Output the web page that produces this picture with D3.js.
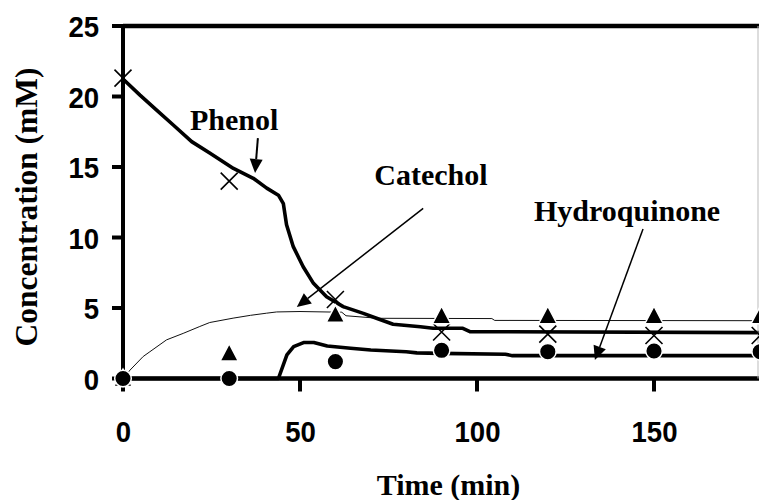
<!DOCTYPE html>
<html>
<head>
<meta charset="utf-8">
<script src="https://cdn.jsdelivr.net/npm/d3@7"></script>
<style>
  html, body { margin: 0; padding: 0; background: #fff; }
  svg { display: block; }
</style>
</head>
<body>
<svg id="chart" width="759" height="500"></svg>
<script>
// Sampling times (min) and measured concentrations (mM)
const sampleTimes = [0, 30, 60, 90, 120, 150, 180];
const phenolObs = [21.3, 14.0, 5.6, 3.3, 3.15, 3.05, 3.05];
const catecholObs = [0, 1.8, 4.55, 4.45, 4.45, 4.45, 4.45];
const hydroquinoneObs = [0, 0, 1.2, 2.0, 1.9, 1.95, 1.9];

// Model curves
const phenolFitT = [0, 4.8, 9.5, 14.2, 19.4, 24.6, 31.2, 36.8, 40.6, 43.9, 45.3, 46.2, 48.1, 50.9, 53.8, 57.5, 62.2, 67.9, 71.6, 76.3, 84, 87.6, 96, 98, 180];
const phenolFit = [21.24, 20.1, 19.04, 17.98, 16.8, 15.97, 14.9, 14.2, 13.5, 13.0, 12.4, 10.9, 9.35, 7.93, 6.75, 5.8, 5.1, 4.62, 4.27, 3.85, 3.67, 3.56, 3.56, 3.32, 3.25];

const catecholFitT = [0, 2, 5.7, 7.6, 12.3, 17, 21.7, 24.5, 31.1, 36, 40.5, 43.4, 50, 61.8, 63, 72, 104.2, 105, 180];
const catecholFit = [0, 0.6, 1.56, 1.9, 2.74, 3.2, 3.69, 3.97, 4.28, 4.48, 4.63, 4.72, 4.75, 4.7, 4.45, 4.27, 4.25, 4.12, 4.1];

const hydroquinoneFitT = [0, 43.9, 46.3, 48.2, 51, 53.9, 57.7, 64.3, 70, 80, 83, 89.6, 108, 110, 180];
const hydroquinoneFit = [0, 0, 1.67, 2.26, 2.55, 2.55, 2.3, 2.14, 2.02, 1.9, 1.82, 1.78, 1.72, 1.62, 1.62];

// Axis ticks
const xTickValues = [0, 50, 100, 150];
const yTickValues = [0, 5, 10, 15, 20, 25];

// Callout labels: text, anchor of text, arrow start, arrow tip (data units)
const labelNames = ["Phenol", "Catechol", "Hydroquinone"];
const labelPos = [[18.9, 17.62], [71.0, 13.72], [116.1, 11.17]];
const arrowFrom = [[38.1, 17.05], [84.8, 12.07], [146.9, 10.6]];
const arrowTo = [[37.3, 14.57], [49.1, 5.07], [133.3, 1.31]];

const svg = d3.select("#chart");
const sansFont = "'Liberation Sans', Arial, sans-serif";
const serifFont = "'Liberation Serif', 'Times New Roman', serif";

const x = d3.scaleLinear().domain([0, 180]).range([123, 760.2]);
const y = d3.scaleLinear().domain([0, 25]).range([378.5, 26]);

const line = (ts, vs) => d3.line()
  .x((d, i) => x(ts[i]))
  .y((d, i) => y(vs[i]))(vs);

// Model curves
svg.append("path").attr("d", line(catecholFitT, catecholFit))
  .attr("fill", "none").attr("stroke", "#111").attr("stroke-width", 1);
svg.append("path").attr("d", line(phenolFitT, phenolFit))
  .attr("fill", "none").attr("stroke", "#000").attr("stroke-width", 3.6)
  .attr("stroke-linejoin", "round");
svg.append("path").attr("d", line(hydroquinoneFitT, hydroquinoneFit))
  .attr("fill", "none").attr("stroke", "#000").attr("stroke-width", 3.6)
  .attr("stroke-linejoin", "round");

// Axes (labels from d3 axes, tick marks drawn as solid strokes)
const xAxis = d3.axisBottom(x).tickValues(xTickValues).tickSizeInner(13).tickSizeOuter(0).tickPadding(29);
const yAxis = d3.axisLeft(y).tickValues(yTickValues).tickSizeInner(11).tickSizeOuter(0).tickPadding(13);

const gx = svg.append("g").attr("transform", `translate(0,${y(0)})`).call(xAxis);
const gy = svg.append("g").attr("transform", `translate(${x(0)},0)`).call(yAxis);
[gx, gy].forEach(g => {
  g.select(".domain").remove();
  g.selectAll(".tick line").remove();
  g.selectAll(".tick text")
    .attr("fill", "#000")
    .style("font-family", sansFont)
    .style("font-weight", "bold")
    .style("font-size", "30px");
});
gx.selectAll(".tick text").attr("transform", "scale(0.92,1)");
gy.selectAll(".tick text").attr("x", -26).attr("dy", "0.36em").attr("transform", "scale(0.92,1)");

const tickMarks = svg.append("g").attr("stroke", "#000").attr("stroke-width", 4);
xTickValues.forEach(v => {
  tickMarks.append("line").attr("x1", x(v)).attr("x2", x(v))
    .attr("y1", y(0)).attr("y2", y(0) + 13);
});
yTickValues.forEach(v => {
  tickMarks.append("line").attr("x1", x(0) - 11).attr("x2", x(0))
    .attr("y1", y(v)).attr("y2", y(v));
});

// Frame: left axis, bottom axis, top border
svg.append("line").attr("x1", x(0)).attr("x2", x(0)).attr("y1", y(25) - 2).attr("y2", y(0) + 2)
  .attr("stroke", "#000").attr("stroke-width", 4);
svg.append("line").attr("x1", x(0)).attr("x2", x(180)).attr("y1", y(0)).attr("y2", y(0))
  .attr("stroke", "#000").attr("stroke-width", 4.5);
svg.append("line").attr("x1", x(0)).attr("x2", x(180)).attr("y1", y(25)).attr("y2", y(25))
  .attr("stroke", "#000").attr("stroke-width", 4.5);
svg.append("line").attr("x1", 758).attr("x2", 758).attr("y1", y(25)).attr("y2", y(0))
  .attr("stroke", "#bbb").attr("stroke-width", 1);

// Measured points
const cross = svg.append("g");
sampleTimes.forEach((t, i) => {
  const cx = x(t), cy = y(phenolObs[i]), h = 8.5;
  cross.append("path")
    .attr("d", `M${cx - h},${cy - h}L${cx + h},${cy + h}M${cx - h},${cy + h}L${cx + h},${cy - h}`)
    .attr("stroke", "#000").attr("stroke-width", 1.6).attr("fill", "none");
});

svg.append("g").selectAll("path").data(catecholObs).join("path")
  .attr("d", (d, i) => {
    const cx = x(sampleTimes[i]), cy = y(d);
    return `M${cx},${cy - 9.5}L${cx + 9.2},${cy + 8}L${cx - 9.2},${cy + 8}Z`;
  })
  .attr("fill", "#000").attr("stroke", "#fff").attr("stroke-width", 1.5);

svg.append("g").selectAll("circle").data(hydroquinoneObs).join("circle")
  .attr("cx", (d, i) => x(sampleTimes[i]))
  .attr("cy", d => y(d))
  .attr("r", 8.3)
  .attr("fill", "#000").attr("stroke", "#fff").attr("stroke-width", 1.5);

// Callouts
const shaftWidths = [2, 1.5, 1.5];
labelNames.forEach((name, i) => {
  svg.append("text")
    .attr("x", x(labelPos[i][0])).attr("y", y(labelPos[i][1]))
    .style("font-family", serifFont).style("font-weight", "bold").style("font-size", "30px")
    .attr("fill", "#000")
    .text(name);

  const x0 = x(arrowFrom[i][0]), y0 = y(arrowFrom[i][1]);
  const x1 = x(arrowTo[i][0]), y1 = y(arrowTo[i][1]);
  const ang = Math.atan2(y1 - y0, x1 - x0);
  const len = 14, half = 6.5;
  const bx = x1 - len * Math.cos(ang), by = y1 - len * Math.sin(ang);
  svg.append("line").attr("x1", x0).attr("y1", y0).attr("x2", bx).attr("y2", by)
    .attr("stroke", "#000").attr("stroke-width", shaftWidths[i]);
  const px = -Math.sin(ang) * half, py = Math.cos(ang) * half;
  svg.append("path")
    .attr("d", `M${x1},${y1}L${bx + px},${by + py}L${bx - px},${by - py}Z`)
    .attr("fill", "#000");
});

// Axis titles
svg.append("text")
  .attr("x", 448.5).attr("y", 495)
  .attr("text-anchor", "middle")
  .style("font-family", serifFont).style("font-weight", "bold").style("font-size", "30px")
  .text("Time (min)");

svg.append("text")
  .attr("transform", "translate(37,207) rotate(-90)")
  .attr("text-anchor", "middle")
  .style("font-family", serifFont).style("font-weight", "bold").style("font-size", "31.5px")
  .text("Concentration (mM)");
</script>
</body>
</html>
